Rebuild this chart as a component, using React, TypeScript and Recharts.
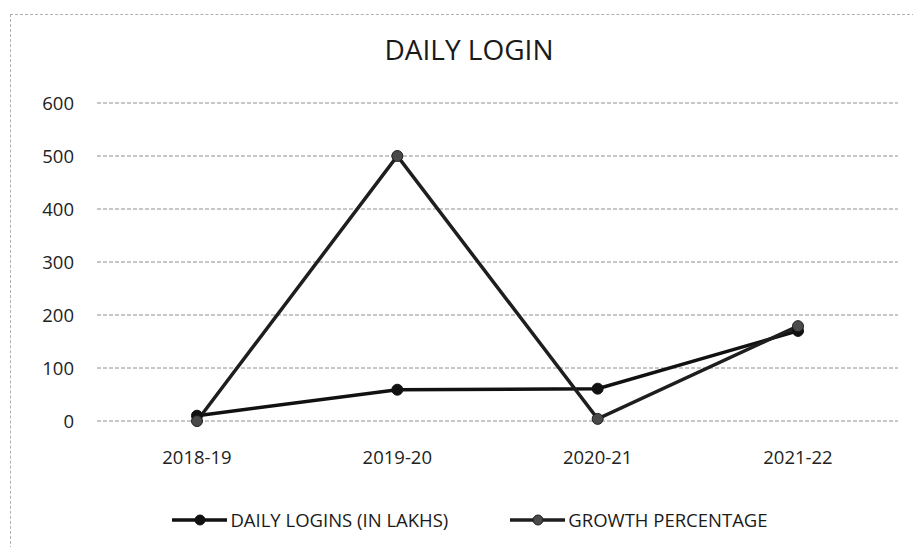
import React from "react";
import { LineChart, Line, XAxis, YAxis, CartesianGrid } from "recharts";

const years = ["2018-19", "2019-20", "2020-21", "2021-22"];
const dailyLogins = [10, 59, 61, 170];
const growthPercentage = [0, 500, 4, 179];
const yTicks = [0, 100, 200, 300, 400, 500, 600];

const seriesInfo = [
  { key: "daily", name: "DAILY LOGINS (IN LAKHS)", stroke: "#111", dotFill: "#111" },
  { key: "growth", name: "GROWTH PERCENTAGE", stroke: "#1e1e1e", dotFill: "#4a4a4a" },
];

const data = years.map((y, i) => ({
  year: y,
  daily: dailyLogins[i],
  growth: growthPercentage[i],
}));

const FONT = "'Open Sans', 'Noto Sans', sans-serif";

export default function App() {
  return (
    <div style={{ position: "relative", width: 913, height: 547, background: "#fff", overflow: "hidden" }}>
      <style>{`body{margin:0}`}</style>
      <div style={{ position: "absolute", left: 10, top: 14, width: 910, height: 545, borderLeft: "1px dashed #b0b0b0", borderTop: "1px dashed #b0b0b0", boxSizing: "border-box" }} />
      <div style={{ position: "absolute", left: 0, width: 938, top: 30, textAlign: "center", fontFamily: FONT, fontSize: 28, color: "#1a1a1a", lineHeight: "normal" }}>
        DAILY LOGIN
      </div>
      <div style={{ position: "absolute", left: 0, top: 0 }}>
        <LineChart width={913} height={547} data={data} margin={{ top: 103, right: 15, bottom: 96, left: 37 }}>
          <CartesianGrid vertical={false} stroke="#909090" strokeDasharray="4 2" />
          <XAxis
            dataKey="year"
            axisLine={false}
            tickLine={false}
            padding={{ left: 100, right: 100 }}
            tick={{ fill: "#222", fontSize: 18.5, fontFamily: FONT }}
            tickMargin={24}
            interval={0}
          />
          <YAxis
            domain={[0, 600]}
            ticks={yTicks}
            axisLine={false}
            tickLine={false}
            width={60}
            tick={{ fill: "#222", fontSize: 18.5, fontFamily: FONT }}
            tickMargin={17}
          />
          {seriesInfo.map((s) => (
            <Line
              key={s.key}
              type="linear"
              dataKey={s.key}
              name={s.name}
              stroke={s.stroke}
              strokeWidth={3.5}
              dot={{ r: 5.5, fill: s.dotFill, stroke: s.stroke, strokeWidth: 1 }}
              isAnimationActive={false}
            />
          ))}
        </LineChart>
      </div>
      <div style={{ position: "absolute", left: 0, width: 940, top: 509, display: "flex", justifyContent: "center", alignItems: "center", gap: 62, fontFamily: FONT, fontSize: 18.5, lineHeight: "22px", color: "#1a1a1a" }}>
        {seriesInfo.map((s, i) => (
          <div key={i} style={{ display: "flex", alignItems: "center" }}>
            <svg width={55} height={14} style={{ marginRight: 3 }}>
              <line x1={0} y1={7} x2={55} y2={7} stroke={s.stroke} strokeWidth={3.5} />
              <circle cx={28} cy={7} r={5} fill={s.dotFill} stroke={s.stroke} strokeWidth={1} />
            </svg>
            <span>{s.name}</span>
          </div>
        ))}
      </div>
    </div>
  );
}
